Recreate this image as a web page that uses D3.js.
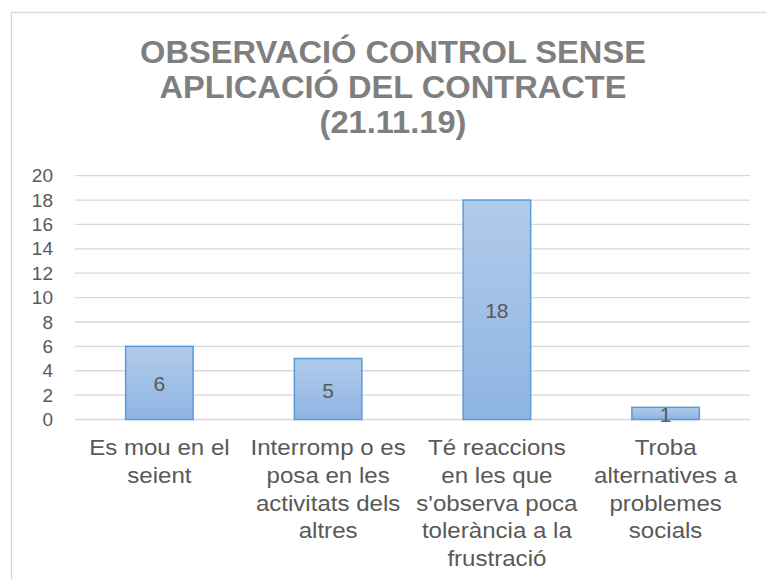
<!DOCTYPE html>
<html>
<head>
<meta charset="utf-8">
<script src="https://cdn.jsdelivr.net/npm/d3@7"></script>
<style>
  body { margin: 0; background: #fff; }
  text { font-family: "Liberation Sans", Arial, sans-serif; }
</style>
</head>
<body>
<div id="chart"></div>
<script>
// Chart data
const titleLines = ["OBSERVACIÓ CONTROL SENSE", "APLICACIÓ DEL CONTRACTE", "(21.11.19)"];
const categories = ["Es mou en el seient", "Interromp o es posa en les activitats dels altres",
    "Té reaccions en les que s'observa poca tolerància a la frustració",
    "Troba alternatives a problemes socials"];
const categoryLines = [
    ["Es mou en el", "seient"],
    ["Interromp o es", "posa en les", "activitats dels", "altres"],
    ["Té reaccions", "en les que", "s'observa poca", "tolerància a la", "frustració"],
    ["Troba", "alternatives a", "problemes", "socials"]
];
const values = [6, 5, 18, 1];
const yTicks = [0, 2, 4, 6, 8, 10, 12, 14, 16, 18, 20];

const width = 766, height = 580;
const margin = {top: 175.7, right: 16, bottom: 160.5, left: 75};
const innerW = width - margin.left - margin.right,
      innerH = height - margin.top - margin.bottom;
// the reference text is a little wider than it is tall
const stretch = 1.07;

const svg = d3.select("#chart")
    .append("svg")
    .attr("width", width)
    .attr("height", height);

// Chart border (runs off the right and bottom edges)
svg.append("rect")
    .attr("x", 11.5)
    .attr("y", 12.5)
    .attr("width", 790)
    .attr("height", 620)
    .attr("fill", "none")
    .attr("stroke", "#d9d9d9")
    .attr("stroke-width", 1.3);

// Bar gradient
const grad = svg.append("defs").append("linearGradient")
    .attr("id", "barGrad")
    .attr("x1", 0).attr("y1", 0).attr("x2", 0).attr("y2", 1);
grad.append("stop").attr("offset", "0%").attr("stop-color", "#b1cbe9");
grad.append("stop").attr("offset", "100%").attr("stop-color", "#8eb4e3");

// Title
svg.append("text")
    .attr("transform", `translate(393,0) scale(${stretch},1)`)
    .attr("text-anchor", "middle")
    .attr("font-size", 30.5)
    .attr("font-weight", "bold")
    .attr("fill", "#7f7f7f")
    .selectAll("tspan")
    .data(titleLines)
    .enter().append("tspan")
    .attr("x", 0)
    .attr("y", (d, i) => 63 + i * 35)
    .text(d => d);

const g = svg.append("g")
    .attr("transform", `translate(${margin.left},${margin.top})`);

const x = d3.scaleBand()
    .domain(categories)
    .range([0, innerW])
    .paddingInner(0.6)
    .paddingOuter(0.3);

const y = d3.scaleLinear()
    .domain([0, 20])
    .range([innerH, 0]);

// Gridlines
g.selectAll(".grid")
    .data(yTicks)
    .enter().append("line")
    .attr("class", "grid")
    .attr("x1", 0)
    .attr("x2", innerW)
    .attr("y1", d => y(d))
    .attr("y2", d => y(d))
    .attr("stroke", "#d9d9d9")
    .attr("stroke-width", 1.3);

// Y axis labels
const yAxis = g.append("g")
    .call(d3.axisLeft(y).tickValues(yTicks).tickSize(0).tickPadding(22));
yAxis.select(".domain").remove();
yAxis.selectAll("text")
    .attr("font-family", "'Liberation Sans', Arial, sans-serif")
    .attr("font-size", 19)
    .attr("fill", "#595959");

// Bars
g.selectAll(".bar")
    .data(values)
    .enter().append("rect")
    .attr("class", "bar")
    .attr("x", (d, i) => x(categories[i]))
    .attr("y", d => y(d))
    .attr("width", x.bandwidth())
    .attr("height", d => innerH - y(d))
    .attr("fill", "url(#barGrad)")
    .attr("stroke", "#5b9bd5")
    .attr("stroke-width", 1.5);

// Value labels at bar centres
g.selectAll(".val")
    .data(values)
    .enter().append("text")
    .attr("class", "val")
    .attr("text-anchor", "middle")
    .attr("dominant-baseline", "central")
    .attr("x", (d, i) => x(categories[i]) + x.bandwidth() / 2)
    .attr("y", d => (y(d) + innerH) / 2 + 1)
    .attr("font-size", 21)
    .attr("fill", "#595959")
    .text(d => d);

// Category labels
g.selectAll(".cat")
    .data(categoryLines)
    .enter().append("text")
    .attr("class", "cat")
    .attr("transform", (d, i) => `translate(${x(categories[i]) + x.bandwidth() / 2},0) scale(${stretch},1)`)
    .attr("text-anchor", "middle")
    .attr("font-size", 22.5)
    .attr("fill", "#595959")
    .each(function(lines) {
        d3.select(this).selectAll("tspan")
            .data(lines)
            .enter().append("tspan")
            .attr("x", 0)
            .attr("y", (d, j) => innerH + 36 + j * 27.6)
            .text(d => d);
    });
</script>
</body>
</html>
